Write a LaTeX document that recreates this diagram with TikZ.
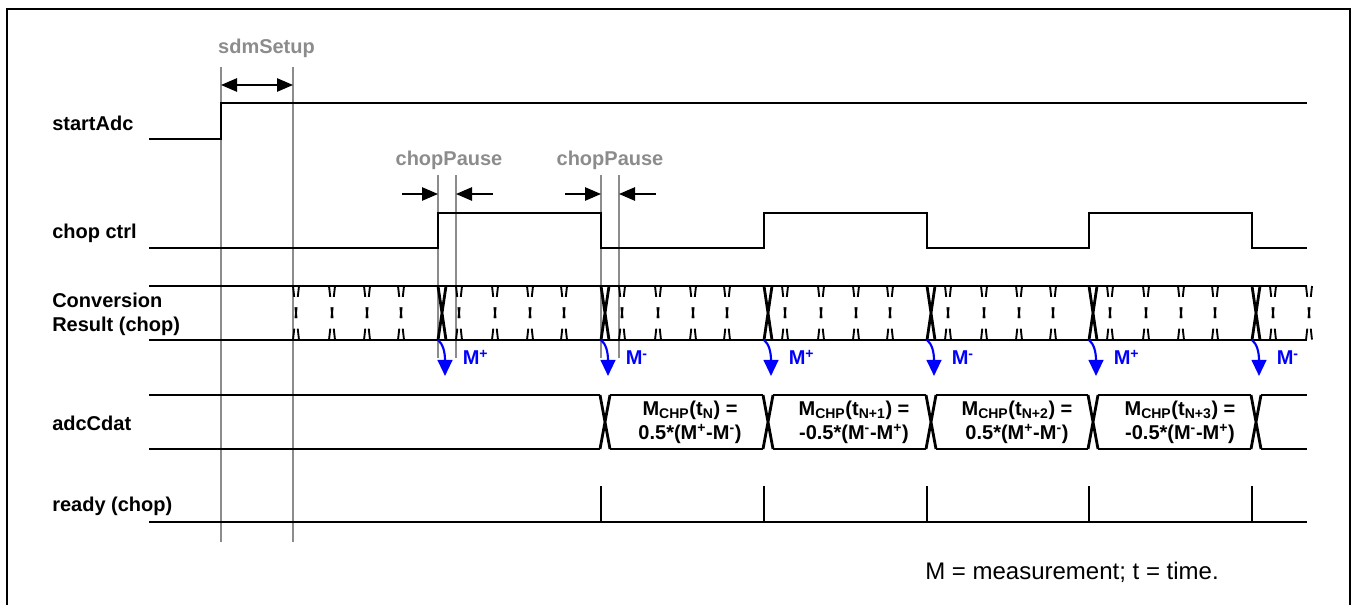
\documentclass[tikz,border=0pt]{standalone}
\usepackage{fontspec}
\setmainfont{Liberation Sans}
\usetikzlibrary{arrows.meta}
\definecolor{guidegray}{HTML}{8C8C8C}
\definecolor{measblue}{HTML}{0000FF}

\begin{document}
\begin{tikzpicture}[x=0.75pt, y=-0.75pt,
        sig/.style={draw, line width=2.1pt},
        guide/.style={draw=guidegray, line width=1.2pt},
        siglabel/.style={anchor=west, inner sep=0pt, align=left, font=\fontsize{15}{18}\selectfont\bfseries},
        timelabel/.style={anchor=base, inner sep=0pt, text=guidegray, font=\fontsize{15}{18}\selectfont\bfseries},
        span/.style={draw, line width=1.2pt, {Triangle[length=12pt, width=10pt]}-{Triangle[length=12pt, width=10pt]}},
        pause/.style={draw, line width=1.2pt, -{Triangle[length=12pt, width=10pt]}},
        sample/.style={draw, line width=1.4pt, dash pattern=on 8.2pt off 7.9pt},
        meas/.style={draw=measblue, line width=1.6pt, -{Triangle[length=12pt, width=11pt]}},
        measlabel/.style={anchor=base west, inner sep=0pt, text=measblue, font=\fontsize{15}{18}\selectfont\bfseries},
        result/.style={align=center, inner sep=0pt, font=\fontsize{15}{18}\selectfont\bfseries}]

    \useasboundingbox (0,0) rectangle (1351,605);
    % Frame, open at the bottom
    \draw[line width=1.5pt] (6.7,606) |- (1349.5,8.8) -- (1349.5,606);

    % Guide lines
    \draw[guide] (221,67) -- (221,542);
    \draw[guide] (293,67) -- (293,542);
    \foreach \g in {438,456,601,619}
        \draw[guide] (\g,175) -- (\g,358);

    % Timing labels
    \node[timelabel] (sdmsetup) at (266.5,53.5) {sdmSetup};
    \node[timelabel] (pauseA) at (449,165.5) {chopPause};
    \node[timelabel] (pauseB) at (610,165.5) {chopPause};

    \coordinate (setupL) at (221,85);
    \coordinate (setupR) at (293,85);
    \path[span] (setupL) -- (setupR);
    \coordinate (pauseAin) at (402,194);
    \coordinate (pauseAout) at (493,194);
    \coordinate (pauseBin) at (565,194);
    \coordinate (pauseBout) at (656,194);
    \path[pause] (pauseAin) -- (438,194);
    \path[pause] (pauseAout) -- (456,194);
    \path[pause] (pauseBin) -- (601,194);
    \path[pause] (pauseBout) -- (619,194);

    % Signal names
    \node[siglabel] (startadc) at (52,123.5) {startAdc};
    \node[siglabel] (chopctrl) at (52,233) {chop ctrl};
    \node[siglabel] (convres) at (52,314.5) {Conversion\\Result (chop)};
    \node[siglabel] (adccdat) at (52,423) {adcCdat};
    \node[siglabel] (readychop) at (52,506) {ready (chop)};

    % startAdc
    \draw[sig] (149,139) -- (221,139) -- (221,103) -- (1307,103);

    % chop ctrl
    \draw[sig] (149,248) -- (438,248) -- (438,213) -- (601,213) -- (601,248)
        -- (764,248) -- (764,213) -- (927,213) -- (927,248)
        -- (1089,248) -- (1089,213) -- (1252,213) -- (1252,248) -- (1307,248);

    % Conversion result
    \draw[sig] (149,286) -- (1307,286);
    \draw[sig] (149,340) -- (1307,340);
    \foreach \s in {296,332,367,401,459,495,530,564,622,658,693,727,
                    785,821,856,890,948,984,1019,1053,1110,1146,1181,1215,1273,1309}
        \draw[sample] ({\s-3},286) -- ({\s+3},340) ({\s+3},286) -- ({\s-3},340);
    \foreach \e in {438,601,764,927,1089,1252}
        \draw[sig] (\e,286) -- ({\e+8},340) ({\e+8},286) -- (\e,340);

    % Measurements
    \foreach \e/\s [count=\i] in {438/+,601/-,764/+,927/-,1089/+,1252/-} {
        \draw[meas] (\e,340) .. controls ({\e+5},344) and ({\e+7},352) .. ({\e+7},376);
        \node[measlabel] (meas\i) at ({\e+24.5},365) {M\textsuperscript{\s}};
    }

    % adcCdat
    \draw[sig] (149,395) -- (600,395) (149,449) -- (600,449);
    \foreach \e/\n in {601/764,764/927,927/1089,1089/1252}
        \draw[sig] ({\e+9},395) -- ({\n-1},395) ({\e+9},449) -- ({\n-1},449);
    \draw[sig] (1261,395) -- (1307,395) (1261,449) -- (1307,449);
    \foreach \e in {601,764,927,1089,1252}
        \draw[sig] ({\e-1},395) -- ({\e+9},449) ({\e+9},395) -- ({\e-1},449);

    \node[result] (res1) at (690,422.5) {M\textsubscript{CHP}(t\textsubscript{N}) =\\0.5*(M\textsuperscript{+}-M\textsuperscript{-})};
    \node[result] (res2) at (854,422.5) {M\textsubscript{CHP}(t\textsubscript{N+1}) =\\-0.5*(M\textsuperscript{-}-M\textsuperscript{+})};
    \node[result] (res3) at (1017,422.5) {M\textsubscript{CHP}(t\textsubscript{N+2}) =\\0.5*(M\textsuperscript{+}-M\textsuperscript{-})};
    \node[result] (res4) at (1180,422.5) {M\textsubscript{CHP}(t\textsubscript{N+3}) =\\-0.5*(M\textsuperscript{-}-M\textsuperscript{+})};

    % ready (chop)
    \draw[sig] (149,522) -- (1307,522);
    \foreach \e in {601,764,927,1089,1252}
        \draw[sig] (\e,522) -- (\e,486);

    % Note
    \node[anchor=base west, inner sep=0pt, font=\fontsize{18}{21}\selectfont] (note) at (925,579) {M = measurement; t = time.};
\end{tikzpicture}
\end{document}
